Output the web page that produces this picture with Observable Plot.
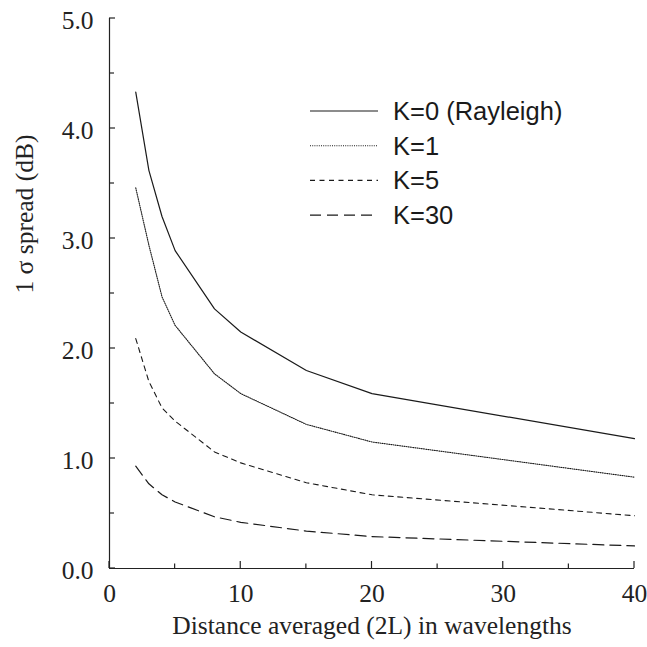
<!DOCTYPE html>
<html>
<head>
<meta charset="utf-8">
<script src="https://cdn.jsdelivr.net/npm/d3@7"></script>
<script src="https://cdn.jsdelivr.net/npm/@observablehq/plot@0.6"></script>
<style>
  html, body { margin: 0; padding: 0; background: #fff; }
  #chart svg { display: block; }
</style>
</head>
<body>
<div id="chart"></div>
<script>
// ---- data ----
const distances = [2, 3, 4, 5, 8, 10, 15, 20, 40];
const k0  = [4.33, 3.62, 3.20, 2.89, 2.36, 2.15, 1.80, 1.59, 1.18];
const k1  = [3.46, 2.94, 2.47, 2.21, 1.77, 1.59, 1.31, 1.15, 0.83];
const k5  = [2.09, 1.70, 1.46, 1.34, 1.06, 0.96, 0.78, 0.67, 0.48];
const k30 = [0.93, 0.77, 0.67, 0.605, 0.47, 0.42, 0.34, 0.29, 0.205];
const seriesNames = ["K=0 (Rayleigh)", "K=1", "K=5", "K=30"];
const seriesValues = [k0, k1, k5, k30];
const yTickLabels = [0, 1, 2, 3, 4, 5];
const xTickLabels = [0, 10, 20, 30, 40];
const xTitle = "Distance averaged (2L) in wavelengths";
const yTitle = "1 σ spread (dB)";

// styles per series
const dashes = [null, "1,1.2", "5,4.5", "11,6"];
const widths = [1.2, 1.1, 1.1, 1.2];
const FS = 25.5;

const rows = [];
seriesNames.forEach((name, i) => {
  distances.forEach((d, j) => rows.push({series: name, idx: i, x: d, y: seriesValues[i][j]}));
});

const W = 647, H = 647;
const plot = Plot.plot({
  width: W,
  height: H,
  marginLeft: 109,
  marginRight: 13,
  marginTop: 18,
  marginBottom: 79,
  style: {fontFamily: "'Liberation Serif', 'Times New Roman', serif", fontSize: FS + "px", color: "#222", background: "#fff"},
  x: {domain: [0, 40]},
  y: {domain: [0, 5]},
  marks: [
    Plot.axisX({ticks: xTickLabels, tickSize: 0, tickPadding: 15, tickFormat: d => String(d), label: null, fontSize: FS}),
    Plot.axisY({ticks: yTickLabels, tickSize: 0, tickPadding: 16, tickFormat: d => d.toFixed(1), label: null, fontSize: FS, dy: 2}),
    Plot.ruleX([0], {stroke: "#222", strokeWidth: 1.2}),
    Plot.ruleY([0], {stroke: "#222", strokeWidth: 1.2}),
    ...seriesNames.map((name, i) =>
      Plot.line(rows.filter(r => r.idx === i), {
        x: "x", y: "y",
        stroke: "#1a1a1a",
        strokeWidth: widths[i],
        strokeDasharray: dashes[i],
        strokeLinejoin: "round"
      })
    ),
    Plot.text([xTitle], {frameAnchor: "bottom", dy: 65, text: d => d, fontSize: FS, fill: "#222"}),
    Plot.text([yTitle], {frameAnchor: "left", rotate: -90, dx: -85, dy: 0, text: d => d, fontSize: FS, fill: "#222"})
  ]
});

document.getElementById("chart").appendChild(plot);

// inward ticks
const sx = plot.scale("x"), sy = plot.scale("y");
const svg = d3.select(plot);
const g = svg.append("g").attr("stroke", "#222").attr("stroke-width", 1.2);
const x0 = sx.apply(0), y0 = sy.apply(0);
d3.range(0, 40.01, 5).forEach(v => {
  const len = v % 10 === 0 ? 7 : 4.5;
  g.append("line").attr("x1", sx.apply(v)).attr("x2", sx.apply(v))
    .attr("y1", y0).attr("y2", y0 - len);
});
d3.range(0, 5.01, 0.5).forEach(v => {
  const len = Math.abs(v - Math.round(v)) < 1e-9 ? 6 : 5;
  g.append("line").attr("x1", x0).attr("x2", x0 + len)
    .attr("y1", sy.apply(v)).attr("y2", sy.apply(v));
});

// legend
const leg = svg.append("g")
  .style("font-family", "'Liberation Sans', Arial, sans-serif")
  .style("font-size", FS + "px")
  .attr("text-anchor", "start")
  .attr("fill", "#1a1a1a");
seriesNames.forEach((name, i) => {
  const yy = 111 + i * 34.7;
  leg.append("line")
    .attr("x1", 310).attr("x2", 378).attr("y1", yy).attr("y2", yy)
    .attr("stroke", "#1a1a1a").attr("stroke-width", widths[i])
    .attr("stroke-dasharray", dashes[i]);
  leg.append("text")
    .attr("x", 393).attr("y", yy).attr("dy", "0.35em")
    .attr("text-anchor", "start")
    .text(name);
});
</script>
</body>
</html>
